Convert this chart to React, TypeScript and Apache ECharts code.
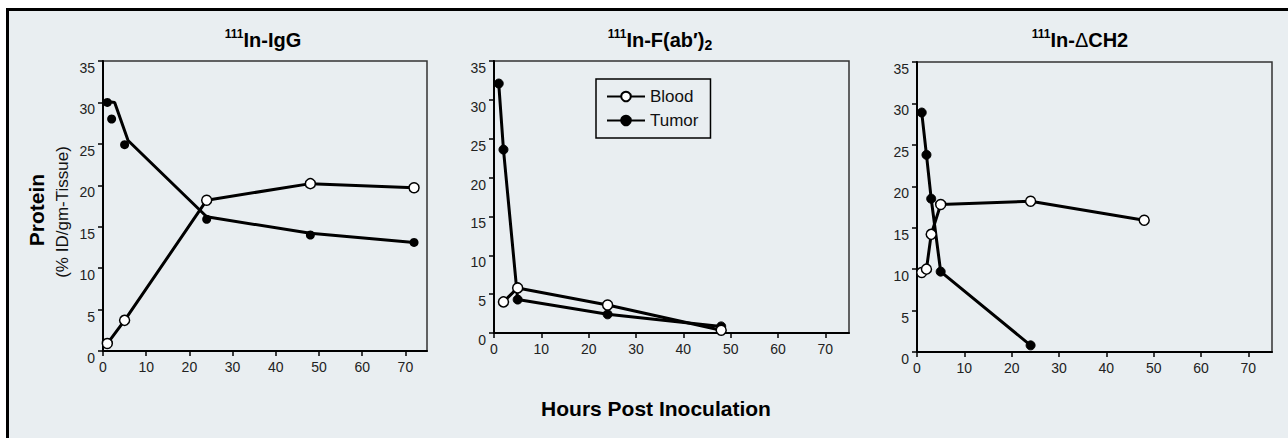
import { useEffect, useRef } from "react";
import * as echarts from "echarts";

// Tick values
const xTicks = [0, 10, 20, 30, 40, 50, 60, 70];

// Panel 1: 111In-IgG  [hours, %ID/gm]
const iggBlood = [[1, 0.9], [5, 3.7], [24, 18.2], [48, 20.2], [72, 19.7]];
const iggTumor = [[1, 30.0], [2, 28.0], [5, 24.9], [24, 15.9], [48, 14.0], [72, 13.1]];
const iggTumorCurve = [[1, 30.1], [2.7, 30.0], [5.8, 25.4], [24, 16.2], [48, 14.2], [72, 13.1]];

// Panel 2: 111In-F(ab')2
const fabBlood = [[2, 4.0], [5, 5.8], [24, 3.6], [48, 0.35]];
const fabTumor = [[1, 32.1], [2, 23.6], [5, 4.3], [24, 2.4], [48, 0.85]];

// Panel 3: 111In-ΔCH2
const ch2Blood = [[1, 9.6], [2, 10.0], [3, 14.2], [5, 17.8], [24, 18.2], [48, 15.9]];
const ch2Tumor = [[1, 28.9], [2, 23.8], [3, 18.5], [5, 9.7], [24, 0.8]];

const FONT = "'Liberation Sans', Arial, Helvetica, sans-serif";

export default function App() {
  const ref = useRef<HTMLDivElement>(null);

  useEffect(() => {
    if (!ref.current) return;
    const chart = echarts.init(ref.current, null, { renderer: "svg" });

    const grids = [
      { left: 103, top: 61, width: 324, height: 290 },
      { left: 494, top: 61, width: 355, height: 272 },
      { left: 917, top: 62, width: 355, height: 290 },
    ];

    const bloodStyle = (xi: number, data: number[][]) => ({
      type: "line",
      name: "Blood",
      xAxisIndex: xi,
      yAxisIndex: xi,
      data,
      symbol: "circle",
      symbolSize: 10,
      itemStyle: { color: "#ffffff", borderColor: "#000000", borderWidth: 1.5 },
      lineStyle: { color: "#000000", width: 3 },
      z: 4,
    });
    const tumorStyle = (xi: number, data: number[][]) => ({
      type: "line",
      name: "Tumor",
      xAxisIndex: xi,
      yAxisIndex: xi,
      data,
      symbol: "circle",
      symbolSize: 9,
      itemStyle: { color: "#000000", borderColor: "#000000", borderWidth: 1 },
      lineStyle: { color: "#000000", width: 3 },
      z: 3,
    });

    const xAxes = grids.map((_, i) => ({
      gridIndex: i,
      type: "value",
      min: 0,
      max: 75,
      interval: 10,
      axisLine: { onZero: false, lineStyle: { color: "#000", width: 2 } },
      axisTick: { show: true, length: 5, customValues: xTicks, lineStyle: { color: "#000", width: 1.5 } },
      axisLabel: { customValues: xTicks, color: "#222", fontSize: 14, margin: 9, fontFamily: FONT },
      splitLine: { show: false },
    }));
    const yAxes = grids.map((_, i) => ({
      gridIndex: i,
      type: "value",
      min: 0,
      max: 35,
      interval: 5,
      axisLine: { onZero: false, lineStyle: { color: "#000", width: 2 } },
      axisTick: { show: true, length: 5, lineStyle: { color: "#000", width: 1.5 } },
      axisLabel: { color: "#222", fontSize: 14, margin: 8, verticalAlign: "top", fontFamily: FONT },
      splitLine: { show: false },
    }));

    const titleRich = {
      sup: { fontSize: 12, fontWeight: "bold", verticalAlign: "top", lineHeight: 14, fontFamily: FONT, fill: "#000" },
      main: { fontSize: 20, fontWeight: "bold", lineHeight: 24, fontFamily: FONT, fill: "#000" },
      sub: { fontSize: 14, fontWeight: "bold", verticalAlign: "bottom", lineHeight: 16, fontFamily: FONT, fill: "#000" },
      thin: { fontSize: 20, fontWeight: "normal", lineHeight: 24, fontFamily: FONT, fill: "#000" },
    };

    const mkTitle = (x: number, text: string) => ({
      type: "text",
      x,
      y: 40,
      style: {
        text,
        rich: titleRich,
        align: "center",
        verticalAlign: "middle",
        fill: "#000",
      },
    });

    chart.setOption({
      animation: false,
      backgroundColor: "#ffffff",
      textStyle: { fontFamily: FONT },
      grid: grids.map((g) => ({
        ...g,
        show: true,
        borderColor: "#333",
        borderWidth: 1.5,
        backgroundColor: "transparent",
      })),
      xAxis: xAxes,
      yAxis: yAxes,
      legend: {
        show: true,
        data: ["Blood", "Tumor"],
        orient: "vertical",
        left: 596,
        top: 79,
        padding: [9, 12, 9, 10],
        itemGap: 7,
        itemWidth: 38,
        itemHeight: 12,
        borderColor: "#000",
        borderWidth: 1.5,
        textStyle: { fontSize: 17, color: "#111", fontFamily: FONT },
        selectedMode: false,
      },
      graphic: [
        {
          type: "rect",
          z: -100,
          shape: { x: 7.5, y: 9.5, width: 1400, height: 600 },
          style: { fill: "#e9eef1", stroke: "#000", lineWidth: 3 },
        },
        mkTitle(263, "{sup|111}{main|In-IgG}"),
        mkTitle(660, "{sup|111}{main|In-F(ab′)}{sub|2}"),
        mkTitle(1080, "{sup|111}{main|In-}{thin|Δ}{main|CH2}"),
        {
          type: "text",
          x: 36,
          y: 210,
          rotation: Math.PI / 2,
          style: {
            text: "Protein",
            font: `bold 21px ${FONT}`,
            fill: "#000",
            align: "center",
            verticalAlign: "middle",
          },
        },
        {
          type: "text",
          x: 62,
          y: 212,
          rotation: Math.PI / 2,
          style: {
            text: "(% ID/gm-Tissue)",
            font: `17px ${FONT}`,
            fill: "#111",
            align: "center",
            verticalAlign: "middle",
          },
        },
        {
          type: "text",
          x: 656,
          y: 408,
          style: {
            text: "Hours Post Inoculation",
            font: `bold 21px ${FONT}`,
            fill: "#000",
            align: "center",
            verticalAlign: "middle",
          },
        },
      ],
      series: [
        bloodStyle(1, fabBlood),
        tumorStyle(1, fabTumor),
        bloodStyle(0, iggBlood),
        {
          type: "line",
          name: "Tumor fit",
          xAxisIndex: 0,
          yAxisIndex: 0,
          data: iggTumorCurve,
          showSymbol: false,
          symbol: "none",
          lineStyle: { color: "#000", width: 3 },
          z: 2,
        },
        {
          type: "scatter",
          name: "Tumor",
          xAxisIndex: 0,
          yAxisIndex: 0,
          data: iggTumor,
          symbol: "circle",
          symbolSize: 9,
          itemStyle: { color: "#000", opacity: 1 },
          z: 3,
        },
        tumorStyle(2, ch2Tumor),
        bloodStyle(2, ch2Blood),
      ],
    });

    return () => chart.dispose();
  }, []);

  return (
    <div
      ref={ref}
      style={{ position: "absolute", left: 0, top: 0, width: 1288, height: 438 }}
    />
  );
}
